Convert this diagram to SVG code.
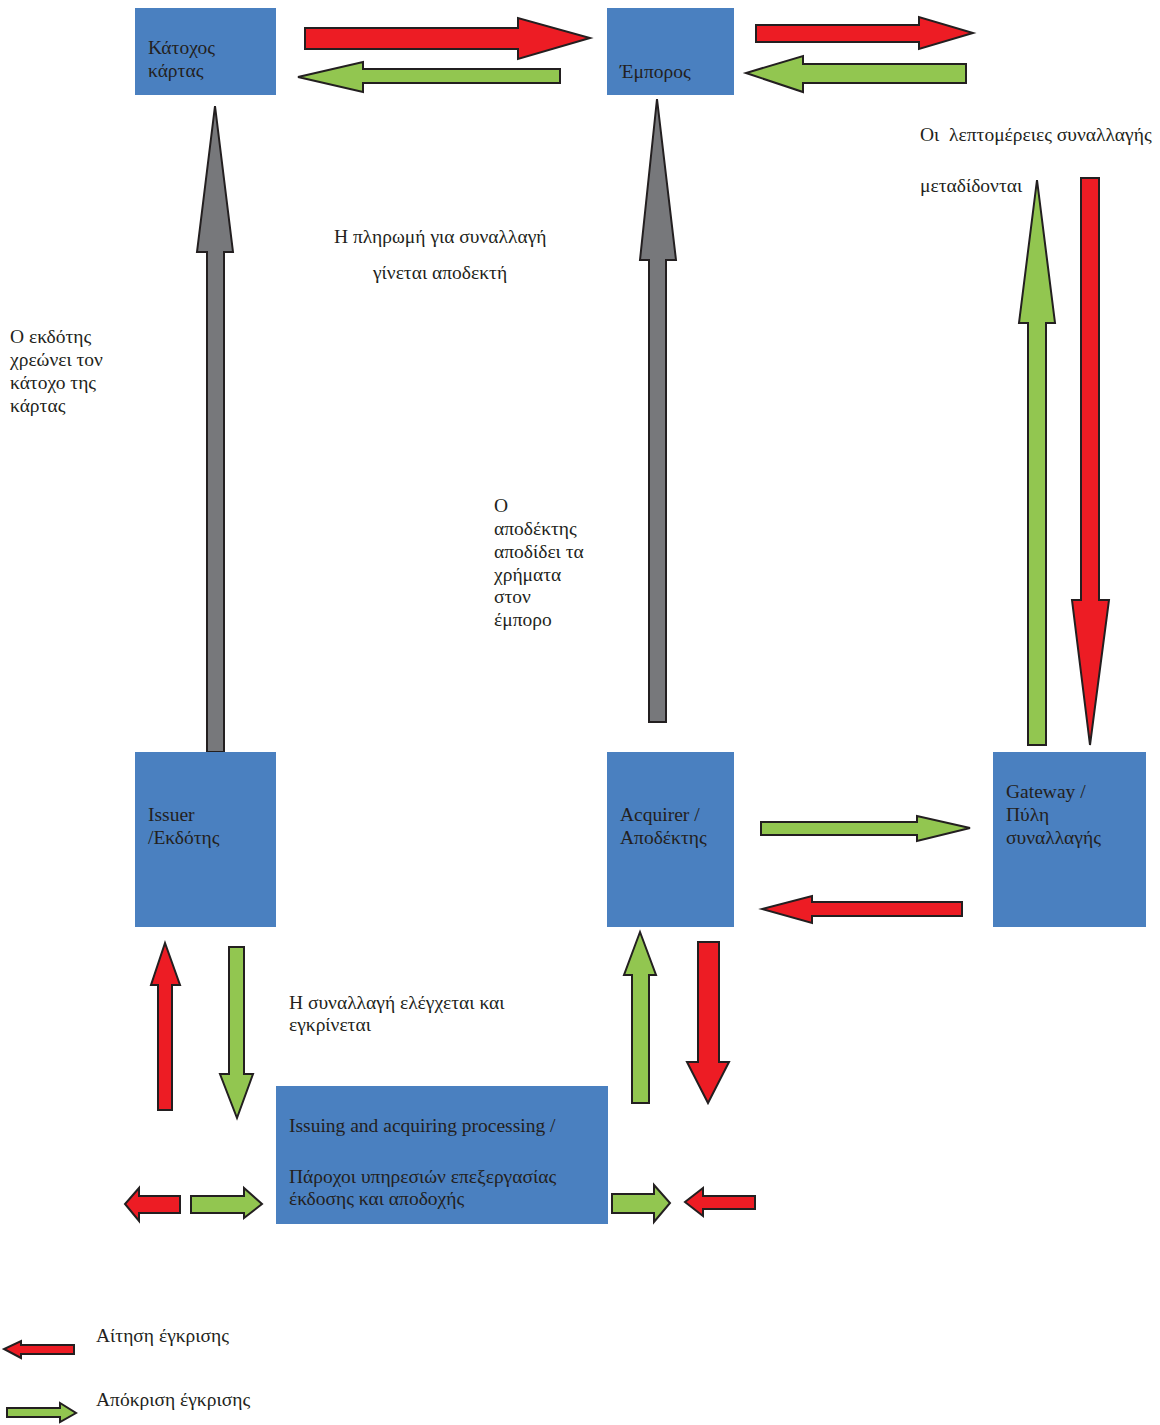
<svg xmlns="http://www.w3.org/2000/svg" width="1160" height="1425" viewBox="0 0 1160 1425">
<style>
.box{fill:#4a80c0;}
.t{font-family:"Liberation Serif","Times New Roman",serif;font-size:19.5px;fill:#231f20;}
.r{fill:#ed1c24;stroke:#231f20;stroke-width:2;stroke-linejoin:miter;}
.g{fill:#92c650;stroke:#231f20;stroke-width:2;stroke-linejoin:miter;}
.k{fill:#77787b;stroke:#231f20;stroke-width:2;stroke-linejoin:miter;}
</style>
<rect width="1160" height="1425" fill="#ffffff"/>

<g id="connectors">
  <!-- top row -->
  <polygon class="r" points="305,28 518,28 518,18 590,38 518,59 518,49 305,49"/>
  <polygon class="g" points="560,69 363,69 363,62 298,77 363,92 363,83 560,83"/>
  <polygon class="r" points="756,25 919,25 919,17 973,33 919,49 919,42 756,42"/>
  <polygon class="g" points="966,64 803,64 803,56 746,73 803,92 803,83 966,83"/>
  <!-- gray up arrows -->
  <polygon class="k" points="207,752 207,252 197,252 215,106 233,252 224,252 224,752"/>
  <polygon class="k" points="649,722 649,260 640,260 657,99 676,260 666,260 666,722"/>
  <!-- right verticals -->
  <polygon class="g" points="1028,745 1028,323 1019,323 1037,180 1055,323 1046,323 1046,745"/>
  <polygon class="r" points="1081,178 1099,178 1099,600 1109,600 1090,745 1072,600 1081,600"/>
  <!-- acquirer <-> gateway -->
  <polygon class="g" points="761,822 917,822 917,816 970,828 917,841 917,835 761,835"/>
  <polygon class="r" points="962,902 812,902 812,896 762,909 812,923 812,916 962,916"/>
  <!-- issuer <-> processing -->
  <polygon class="r" points="158,1110 158,985 151,985 165,943 180,985 172,985 172,1110"/>
  <polygon class="g" points="229,947 244,947 244,1074 253,1074 237,1118 220,1074 229,1074"/>
  <!-- acquirer <-> processing -->
  <polygon class="g" points="632,1103 632,975 624,975 640,932 656,975 649,975 649,1103"/>
  <polygon class="r" points="698,942 719,942 719,1062 729,1062 708,1103 687,1062 698,1062"/>
  <!-- bottom row small arrows -->
  <polygon class="r" points="180,1196 139,1196 139,1188 125,1204 139,1221 139,1213 180,1213"/>
  <polygon class="g" points="191,1196 244,1196 244,1188 262,1204 244,1218 244,1213 191,1213"/>
  <polygon class="g" points="612,1194 654,1194 654,1185 670,1203 654,1222 654,1213 612,1213"/>
  <polygon class="r" points="755,1196 703,1196 703,1188 685,1202 703,1216 703,1209 755,1209"/>
</g>

<g id="cardholder">
  <rect class="box" x="135" y="8" width="141" height="87"/>
  <text class="t" x="148" y="54">Κάτοχος</text>
  <text class="t" x="148" y="77">κάρτας</text>
</g>
<g id="merchant">
  <rect class="box" x="607" y="8" width="127" height="87"/>
  <text class="t" x="620" y="78">Έμπορος</text>
</g>
<g id="issuer">
  <rect class="box" x="135" y="752" width="141" height="175"/>
  <text class="t" x="148" y="821">Issuer</text>
  <text class="t" x="148" y="844">/Εκδότης</text>
</g>
<g id="acquirer">
  <rect class="box" x="607" y="752" width="127" height="175"/>
  <text class="t" x="620" y="821">Acquirer /</text>
  <text class="t" x="620" y="844">Αποδέκτης</text>
</g>
<g id="gateway">
  <rect class="box" x="993" y="752" width="153" height="175"/>
  <text class="t" x="1006" y="798">Gateway /</text>
  <text class="t" x="1006" y="821">Πύλη</text>
  <text class="t" x="1006" y="844">συναλλαγής</text>
</g>
<g id="processing">
  <rect class="box" x="276" y="1086" width="332" height="138"/>
  <text class="t" x="289" y="1132">Issuing and acquiring processing /</text>
  <text class="t" x="289" y="1183">Πάροχοι υπηρεσιών επεξεργασίας</text>
  <text class="t" x="289" y="1205">έκδοσης και αποδοχής</text>
</g>

<g id="labels">
  <text class="t" x="920" y="141" xml:space="preserve">Οι  λεπτομέρειες συναλλαγής</text>
  <text class="t" x="920" y="192">μεταδίδονται</text>
  <text class="t" x="334" y="243">Η πληρωμή για συναλλαγή</text>
  <text class="t" x="373" y="279">γίνεται αποδεκτή</text>
  <text class="t" x="10" y="343">Ο εκδότης</text>
  <text class="t" x="10" y="366">χρεώνει τον</text>
  <text class="t" x="10" y="389">κάτοχο της</text>
  <text class="t" x="10" y="412">κάρτας</text>
  <text class="t" x="494" y="512">Ο</text>
  <text class="t" x="494" y="535">αποδέκτης</text>
  <text class="t" x="494" y="558">αποδίδει τα</text>
  <text class="t" x="494" y="581">χρήματα</text>
  <text class="t" x="494" y="603">στον</text>
  <text class="t" x="494" y="626">έμπορο</text>
  <text class="t" x="289" y="1009">Η συναλλαγή ελέγχεται και</text>
  <text class="t" x="289" y="1031">εγκρίνεται</text>
</g>

<g id="legend">
  <polygon class="r" points="74,1345 21,1345 21,1341 4,1349 21,1358 21,1354 74,1354"/>
  <text class="t" x="96" y="1342">Αίτηση έγκρισης</text>
  <polygon class="g" points="7,1408 60,1408 60,1403 76,1413 60,1422 60,1417 7,1417"/>
  <text class="t" x="96" y="1406">Απόκριση έγκρισης</text>
</g>
</svg>
